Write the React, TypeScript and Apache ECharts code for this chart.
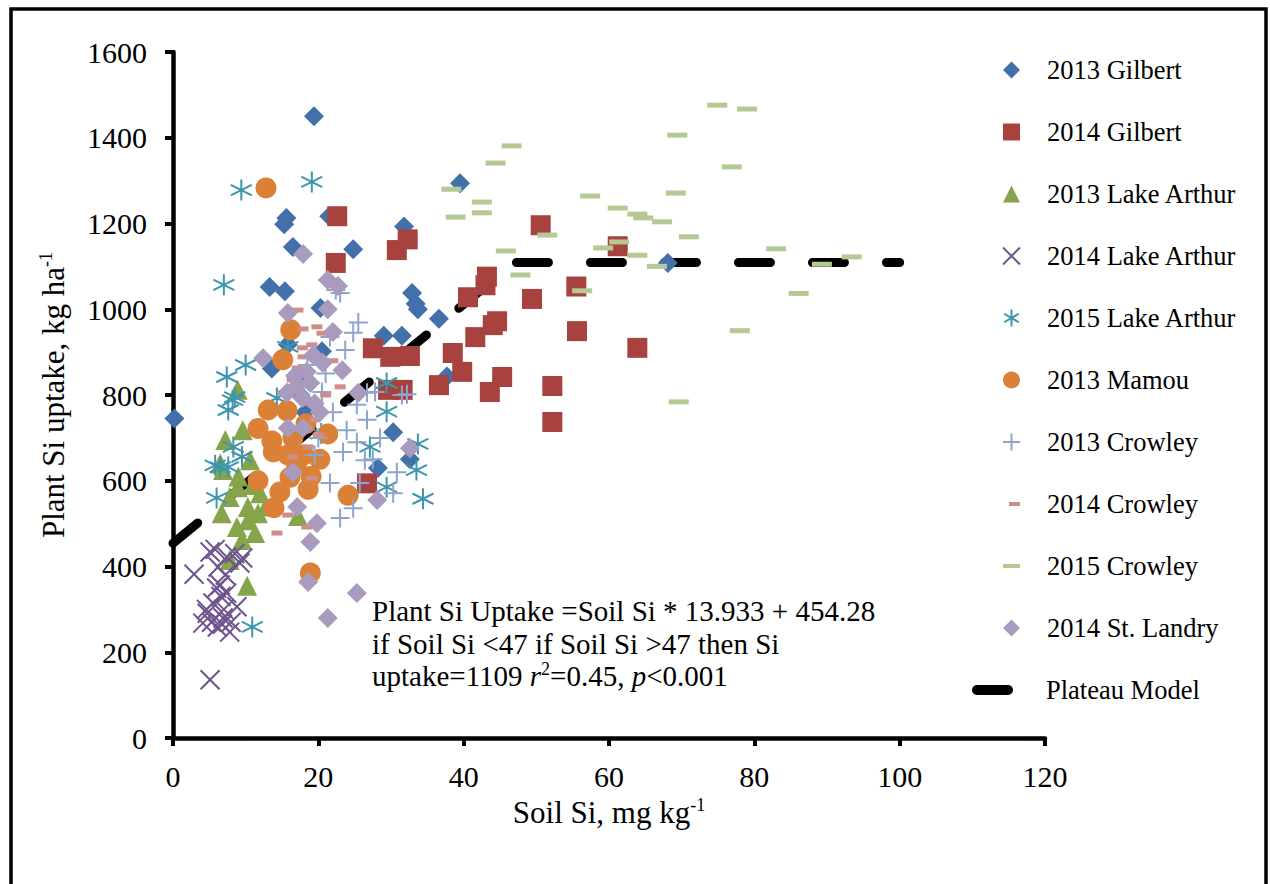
import * as echarts from "echarts";
import { useEffect, useRef } from "react";

// Soil Si (mg/kg) vs plant Si uptake (kg/ha)
const gilbert2013 = [
  [0.2, 745], [19.4, 1450], [15.6, 1213], [15.3, 1198], [21.5, 1217], [24.8, 1140],
  [16.5, 1145], [13.3, 1052], [15.4, 1042], [20.3, 1003], [39.5, 1294], [31.8, 1193],
  [32.9, 1038], [33.4, 1013], [33.7, 1000], [36.6, 978], [29.0, 938], [31.5, 938],
  [15.8, 918], [20.5, 902], [13.6, 862], [30.3, 713], [28.2, 630], [32.6, 650],
  [68.1, 1108], [37.7, 843], [17.0, 842], [17.5, 800], [18.2, 760],
];
const gilbert2014 = [
  [22.6, 1217], [22.4, 1108], [30.8, 1138], [32.3, 1163], [50.6, 1196], [61.2, 1147],
  [49.4, 1024], [40.6, 1028], [55.5, 1053], [43.2, 1076], [43.0, 1056], [44.6, 972],
  [44.0, 963], [41.6, 935], [55.6, 949], [38.5, 898], [39.8, 854], [45.3, 842],
  [43.6, 807], [36.6, 823], [52.2, 821], [63.9, 910], [52.2, 737], [27.5, 909],
  [29.9, 889], [32.6, 891], [29.6, 812], [31.6, 812], [26.7, 594],
];
const lakeArthur2013 = [
  [8.9, 812], [9.6, 718], [7.2, 695], [10.6, 648], [6.9, 625], [7.8, 562], [10.3, 539],
  [6.7, 524], [11.7, 524], [8.8, 492], [10.3, 508], [11.3, 478], [9.5, 462], [7.8, 415],
  [10.2, 355], [17.2, 518], [8.9, 585], [12.0, 571], [6.5, 640], [9.0, 610], [12.8, 540],
  [11.0, 590],
];
const lakeArthur2014 = [
  [2.9, 382], [5.1, 136], [5.1, 434], [7.4, 422], [9.6, 420], [6.2, 399], [5.5, 315],
  [4.7, 291], [6.9, 280], [6.1, 259], [7.8, 247], [7.4, 338], [6.5, 357], [8.8, 306],
  [4.1, 268], [9.2, 408], [5.8, 440], [6.6, 330], [7.0, 300], [5.3, 270], [8.0, 270],
  [6.0, 350], [4.6, 300], [7.2, 380], [8.5, 430], [6.8, 265],
];
const lakeArthur2015 = [
  [9.4, 1278], [19.1, 1297], [7.0, 1057], [15.8, 912], [10.0, 870], [7.4, 842], [8.2, 788],
  [7.6, 765], [8.3, 679], [9.5, 656], [6.5, 632], [7.6, 632], [5.8, 636], [6.0, 560],
  [10.9, 259], [14.3, 793], [29.4, 828], [29.4, 761], [27.1, 679], [33.5, 625], [29.4, 585],
  [34.4, 558], [33.7, 686], [8.5, 795], [20.4, 710],
];
const mamou2013 = [
  [12.8, 1283], [16.2, 952], [15.1, 882], [13.1, 765], [15.7, 763], [11.7, 722], [13.6, 693],
  [16.5, 700], [18.3, 733], [21.3, 709], [13.8, 667], [15.8, 660], [18.0, 660], [20.2, 650],
  [18.6, 580], [14.7, 574], [13.9, 537], [11.7, 600], [18.9, 385], [24.1, 566], [16.1, 608],
  [19.0, 610], [17.0, 636],
];
const crowley2013 = [
  [22.4, 1045], [25.5, 969], [24.8, 945], [23.7, 905], [21.6, 935], [23.0, 1038], [20.5, 807],
  [27.8, 807], [25.3, 777], [26.7, 742], [23.9, 718], [25.3, 690], [23.4, 667], [31.5, 800],
  [26.4, 648], [21.6, 595], [24.8, 536], [23.0, 513], [30.3, 571], [25.7, 595], [19.5, 660],
  [32.2, 802], [26.7, 805], [28.5, 700], [22.0, 760], [30.8, 620], [18.5, 870], [21.0, 850],
  [27.5, 650], [20.0, 700],
];
const crowley2014 = [
  [17.2, 998], [17.9, 954], [19.8, 959], [20.5, 944], [17.8, 910], [19.1, 917], [17.9, 889],
  [17.1, 863], [16.4, 835], [15.1, 805], [23.0, 819], [18.9, 781], [19.5, 742], [20.0, 707],
  [18.6, 679], [16.5, 656], [19.1, 606], [15.8, 520], [14.3, 478], [18.4, 492], [22.0, 880],
  [21.0, 800], [17.0, 720],
];
const crowley2015 = [
  [74.9, 1476], [79.0, 1467], [69.4, 1406], [76.9, 1332], [46.6, 1381], [44.4, 1341],
  [38.3, 1280], [42.5, 1250], [42.5, 1225], [38.9, 1215], [57.4, 1264], [69.2, 1271],
  [61.2, 1236], [63.9, 1222], [64.7, 1213], [67.3, 1204], [71.0, 1169], [51.5, 1173],
  [45.8, 1136], [61.4, 1157], [59.2, 1143], [63.9, 1126], [66.6, 1100], [83.0, 1141],
  [93.4, 1122], [89.3, 1105], [47.8, 1080], [56.3, 1043], [86.1, 1037], [78.0, 950],
  [69.6, 784],
];
const stLandry2014 = [
  [17.9, 1129], [21.3, 1068], [22.7, 1054], [15.8, 991], [21.3, 1000], [22.0, 947],
  [12.4, 886], [19.3, 893], [20.6, 875], [23.3, 858], [18.4, 854], [17.2, 823], [18.9, 828],
  [17.8, 793], [15.7, 805], [20.2, 760], [15.8, 723], [17.9, 723], [25.5, 805], [16.5, 620],
  [17.1, 539], [19.8, 501], [28.1, 555], [32.6, 676], [18.9, 457], [18.6, 364], [21.3, 280],
  [25.3, 338], [19.5, 780], [16.8, 845],
];
// Plateau model: 13.933 * x + 454.28 up to 47, then flat at 1109
const plateauModel = [
  [0, 454.28],
  [47, 1109],
  [100, 1109],
];

const FONT = '"Liberation Serif", "Times New Roman", serif';

const X_PATH = "path://M0,0L10,10M10,0L0,10";
const PLUS_PATH = "path://M5,0V10M0,5H10";
const STAR_PATH = "path://M5,0V10M0.67,2.5L9.33,7.5M0.67,7.5L9.33,2.5";
// padded boxes so the legend keeps the small dash proportions
const DASH_SMALL_ICON = "path://M0,0M17,17M6,6.5H17V10.5H6Z";
const DASH_WIDE_ICON = "path://M0,0M17,17M0,6.5H17V10.5H0Z";
const PILL_ICON = "path://M5,0H36A5,5,0,0,1,36,10H5A5,5,0,0,1,5,0Z";

type Spec = {
  name: string;
  data: number[][];
  color: string;
  symbol: string;
  size: number | number[];
  stroke?: boolean;
  icon?: string;
};

const specs: Spec[] = [
  { name: "2013 Gilbert", data: gilbert2013, color: "#4170AA", symbol: "diamond", size: 20 },
  { name: "2014 Gilbert", data: gilbert2014, color: "#A8423F", symbol: "rect", size: 20 },
  { name: "2013 Lake Arthur", data: lakeArthur2013, color: "#86A44A", symbol: "triangle", size: 20 },
  { name: "2014 Lake Arthur", data: lakeArthur2014, color: "#6E548D", symbol: X_PATH, size: 19, stroke: true },
  { name: "2015 Lake Arthur", data: lakeArthur2015, color: "#3D96AE", symbol: STAR_PATH, size: 21, stroke: true },
  { name: "2013 Mamou", data: mamou2013, color: "#DA8137", symbol: "circle", size: 21 },
  { name: "2013 Crowley", data: crowley2013, color: "#8EA5CB", symbol: PLUS_PATH, size: 19, stroke: true },
  { name: "2014 Crowley", data: crowley2014, color: "#CE8E8D", symbol: "rect", size: [11, 5], icon: DASH_SMALL_ICON },
  { name: "2015 Crowley", data: crowley2015, color: "#B5CA92", symbol: "rect", size: [20, 5], icon: DASH_WIDE_ICON },
  { name: "2014 St. Landry", data: stLandry2014, color: "#A99BBD", symbol: "diamond", size: 20 },
];

export default function App() {
  const chartRef = useRef<HTMLDivElement | null>(null);

  useEffect(() => {
    const el = chartRef.current;
    if (!el) return;
    const chart = echarts.init(el, undefined, { renderer: "svg" });

    const scatterSeries = specs.map((s) => ({
      name: s.name,
      type: "scatter" as const,
      data: s.data,
      symbol: s.symbol,
      symbolSize: s.size,
      z: 3,
      itemStyle: s.stroke
        ? { color: "transparent", borderColor: s.color, borderWidth: 2, opacity: 1 }
        : { color: s.color, opacity: 1 },
    }));

    const sup = { fontSize: 18, fontFamily: FONT, color: "#000", verticalAlign: "top" as const, padding: [0, 0, 14, 0] };

    const option: echarts.EChartsOption = {
      animation: false,
      backgroundColor: "#fff",
      grid: { left: 173, right: 225, top: 52, bottom: 146, containLabel: false },
      xAxis: {
        type: "value",
        min: 0,
        max: 120,
        interval: 20,
        name: "Soil Si, mg kg{sup|-1}",
        nameLocation: "middle",
        nameGap: 58,
        nameTextStyle: {
          fontFamily: FONT,
          fontSize: 31,
          color: "#000",
          rich: { sup },
        },
        axisLine: { lineStyle: { color: "#000", width: 4.5 } },
        axisTick: { length: 8, lineStyle: { color: "#000", width: 4 } },
        axisLabel: { fontFamily: FONT, fontSize: 30, color: "#000", margin: 23 },
        splitLine: { show: false },
      },
      yAxis: {
        type: "value",
        min: 0,
        max: 1600,
        interval: 200,
        name: "Plant Si uptake, kg ha{sup|-1}",
        nameLocation: "middle",
        nameRotate: 90,
        nameGap: 104,
        nameTextStyle: {
          fontFamily: FONT,
          fontSize: 31,
          color: "#000",
          rich: { sup },
        },
        axisLine: { show: true, lineStyle: { color: "#000", width: 4.5 } },
        axisTick: { show: true, length: 8, lineStyle: { color: "#000", width: 4 } },
        axisLabel: {
          fontFamily: FONT,
          fontSize: 30,
          color: "#000",
          margin: 26,
          formatter: (v: number) => String(v),
        },
        splitLine: { show: false },
      },
      legend: [
        {
          orient: "vertical",
          left: 997,
          top: 51,
          itemWidth: 17,
          itemHeight: 17,
          itemGap: 34,
          selectedMode: false,
          data: specs.map((s) => (s.icon ? { name: s.name, icon: s.icon } : { name: s.name })),
          textStyle: {
            fontFamily: FONT,
            fontSize: 26.5,
            lineHeight: 28,
            color: "#000",
            padding: [0, 0, 0, 22],
          },
        },
        {
          orient: "vertical",
          left: 967,
          top: 671,
          itemWidth: 41,
          itemHeight: 10,
          selectedMode: false,
          data: [{ name: "Plateau Model", icon: PILL_ICON, itemStyle: { color: "#000" } }],
          textStyle: {
            fontFamily: FONT,
            fontSize: 26.5,
            lineHeight: 28,
            color: "#000",
            padding: [0, 0, 0, 28],
          },
        },
      ],
      graphic: [
        {
          type: "rect",
          shape: { x: 11, y: 9, width: 1255, height: 900 },
          style: { fill: "none", stroke: "#000", lineWidth: 3.5 },
          silent: true,
        },
        {
          type: "text",
          x: 372,
          y: 595,
          style: {
            text:
              "Plant Si Uptake =Soil Si * 13.933 + 454.28\nif Soil Si <47 if Soil Si >47 then Si\nuptake=1109 {i|r}{s|2}=0.45, {i|p}<0.001",
            font: `29px ${FONT}`,
            fill: "#000",
            lineHeight: 32.5,
            rich: {
              i: { fontStyle: "italic", fontFamily: FONT, fontSize: 29, fill: "#000" },
              s: { fontFamily: FONT, fontSize: 18, fill: "#000", verticalAlign: "top", padding: [0, 0, 14, 0] },
            },
          },
        },
      ],
      series: [
        {
          name: "Plateau Model",
          type: "line",
          data: plateauModel,
          showSymbol: false,
          symbol: "none",
          z: 1,
          lineStyle: { color: "#000", width: 9, type: [32, 42], cap: "round" },
          itemStyle: { color: "#000" },
        },
        ...scatterSeries,
      ],
    };

    chart.setOption(option, { notMerge: true });

    return () => {
      if (!chart.isDisposed()) chart.dispose();
    };
  }, []);

  return (
    <div
      ref={chartRef}
      style={{ position: "fixed", left: 0, top: 0, width: 1270, height: 884, background: "#fff" }}
    />
  );
}
